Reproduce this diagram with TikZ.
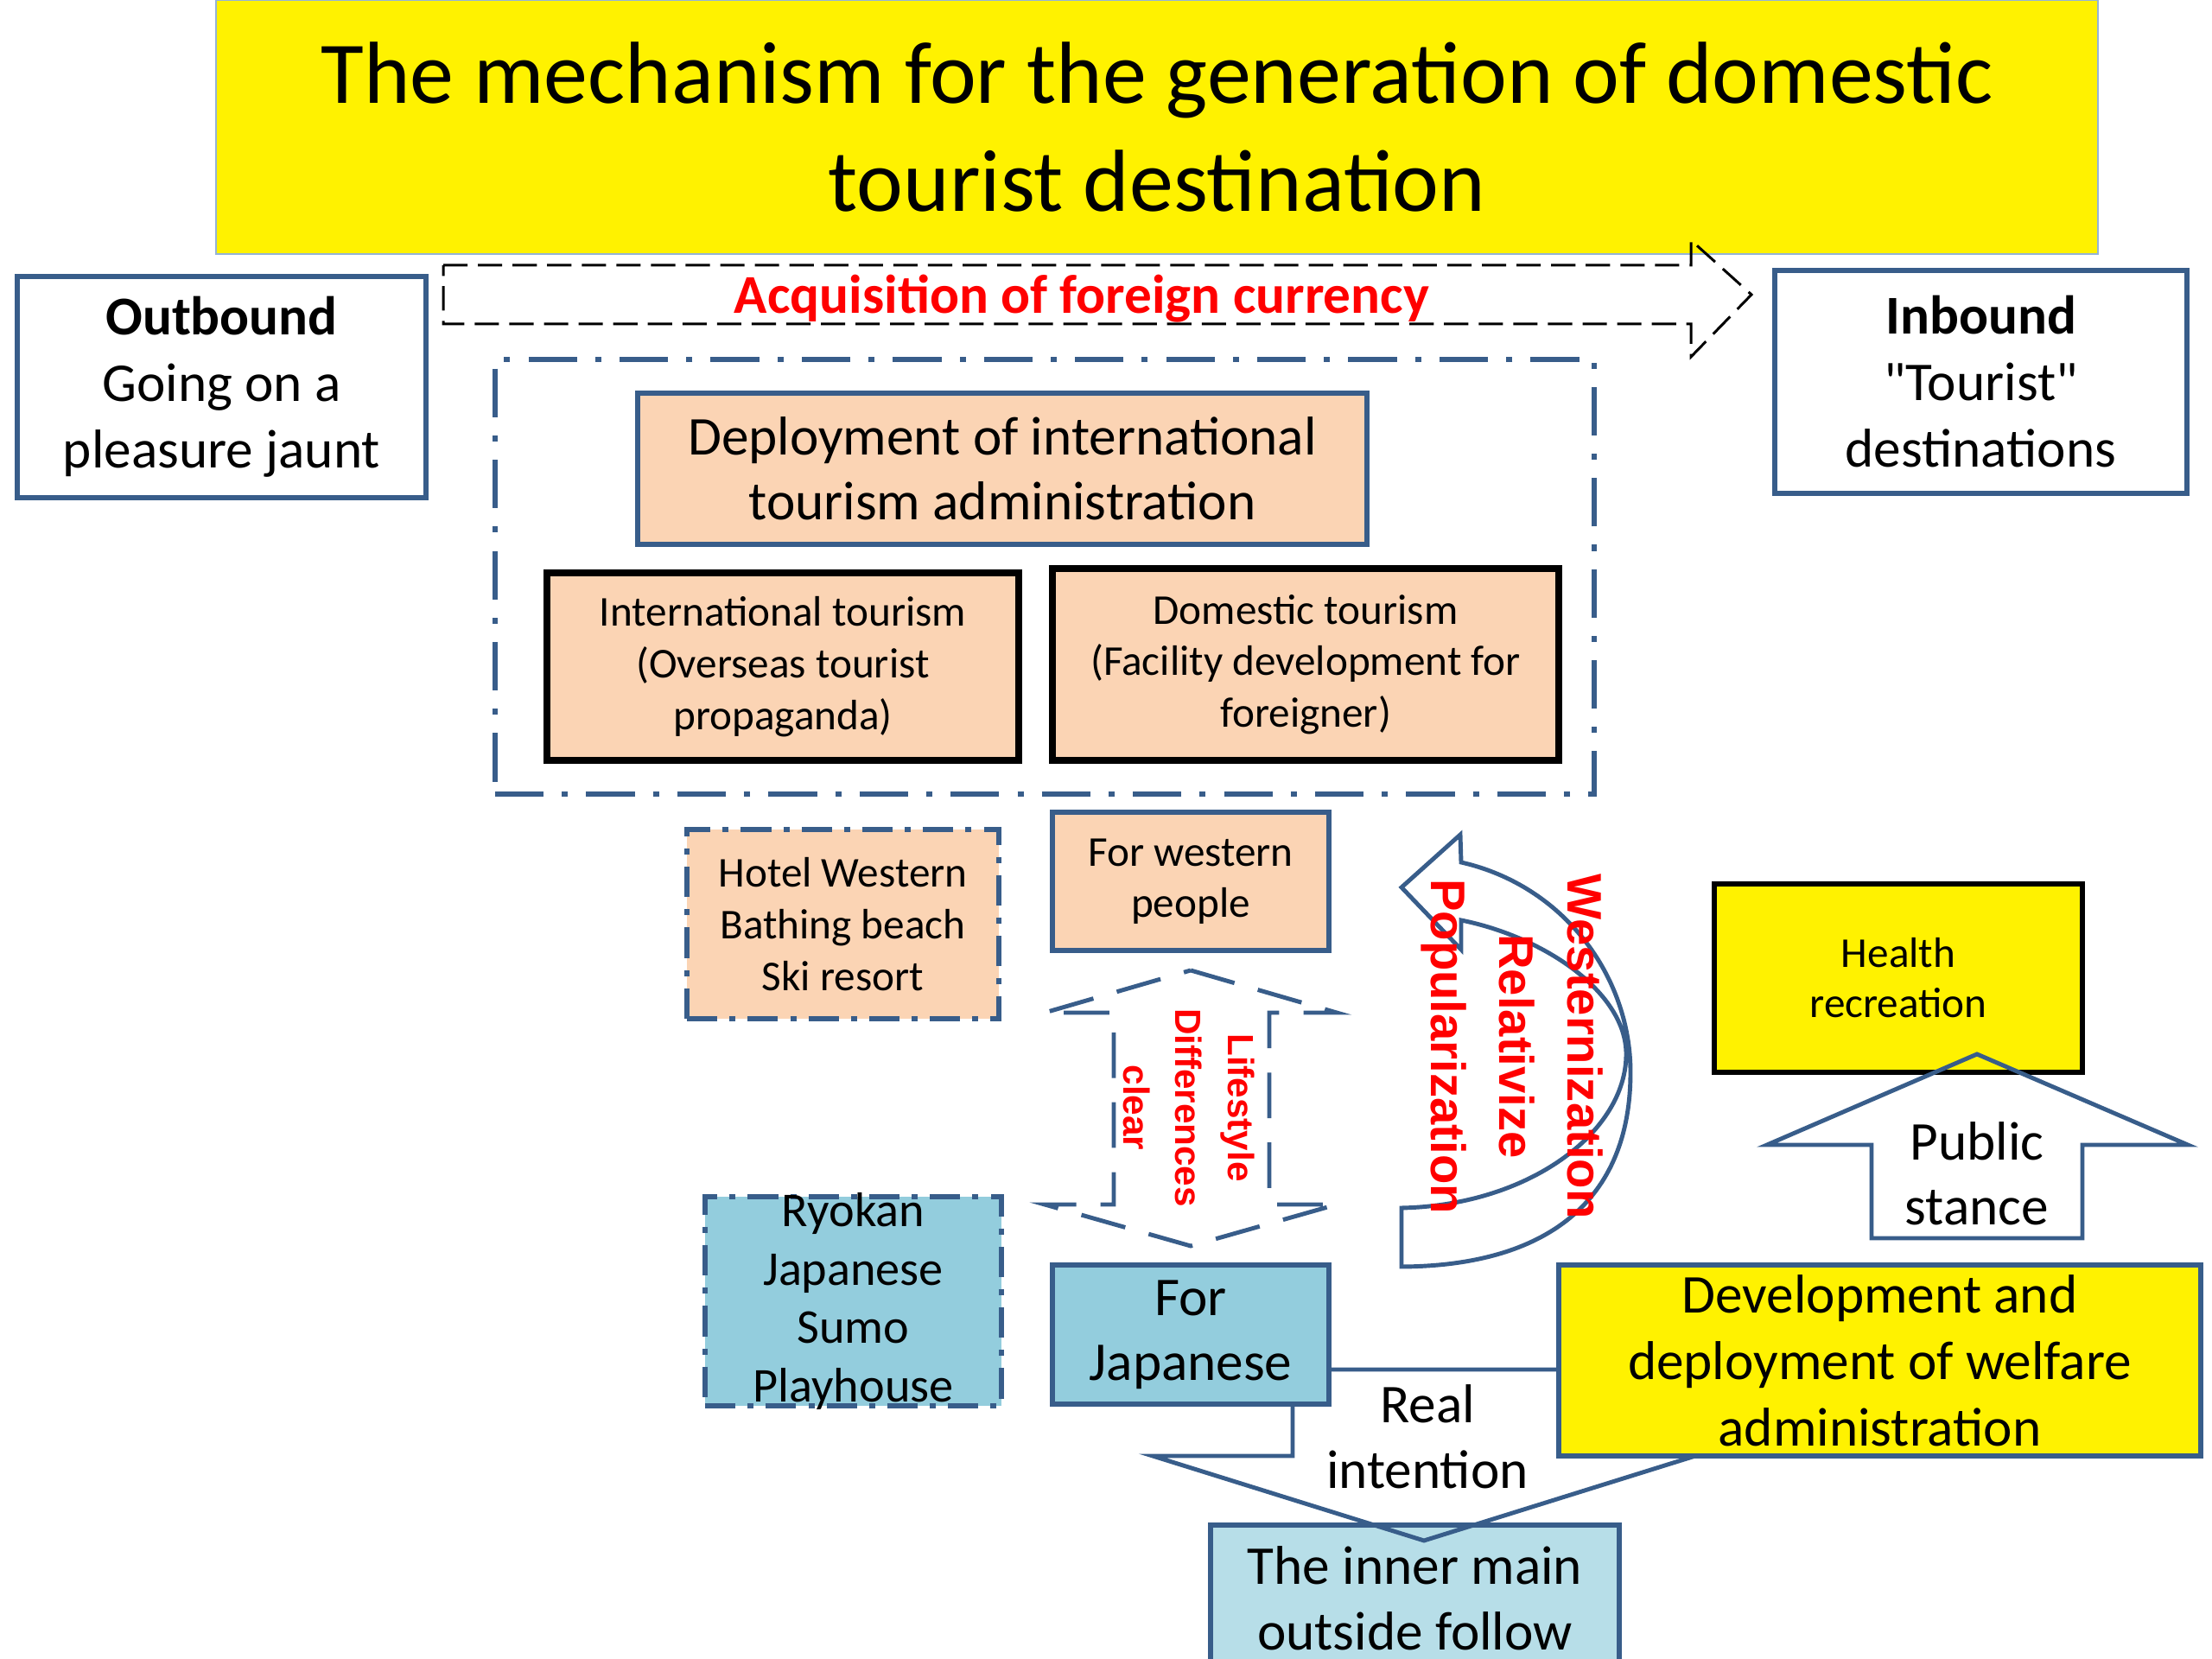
\documentclass[tikz,border=0pt]{standalone}
\usepackage{fontspec}
\setmainfont{Carlito}
\newfontfamily\arialfont{Liberation Sans}
\usetikzlibrary{positioning,calc}
\definecolor{boxblue}{HTML}{385D8A}
\definecolor{titleedge}{HTML}{95B3D7}
\definecolor{peach}{HTML}{FBD4B4}
\definecolor{seablue}{HTML}{93CDDD}
\definecolor{paleblue}{HTML}{B7DEE8}
\tikzset{
  headline/.style={draw=titleedge, line width=0.6pt, fill=yellow, align=center, inner sep=0pt, font=\fontsize{29}{35.8}\selectfont},
  sidebox/.style={draw=boxblue, line width=1.5pt, fill=white, align=center, inner sep=0pt, font=\fontsize{18}{21.9}\selectfont},
  adminbox/.style={draw=boxblue, line width=1.5pt, fill=peach, align=center, inner sep=0pt, font=\fontsize{18}{21.3}\selectfont},
  tourbox/.style={draw=black, line width=2.2pt, fill=peach, align=center, inner sep=0pt, font=\fontsize{14}{17}\selectfont},
  spotbox/.style={draw=boxblue, line width=1.5pt, dash pattern=on 10pt off 4pt on 2pt off 4pt, align=center, inner sep=0pt},
  userbox/.style={draw=boxblue, line width=1.5pt, align=center, inner sep=0pt, font=\fontsize{18}{21.3}\selectfont},
  outerframe/.style={draw=boxblue, line width=1.7pt, dash pattern=on 16pt off 6pt on 2pt off 6pt, inner sep=0pt},
  blockarrow/.style={draw=boxblue, line width=1.4pt, line join=miter},
  redtext/.style={text=red, rotate=-90, align=center, inner sep=0pt},
  arrowtext/.style={align=center, inner sep=0pt, font=\fontsize{18}{21.6}\selectfont}
}

\begin{document}
\begin{tikzpicture}[x=1cm,y=1cm]
  \useasboundingbox (0,0) rectangle (25.6,19.2);

  \node[headline, minimum width=21.78cm, minimum height=2.94cm] (title) at (13.39,17.73) {The mechanism for the generation of domestic\\tourist destination};
  \node[sidebox, minimum width=4.73cm, minimum height=2.56cm] (outbound) at (2.565,14.72) {\textbf{Outbound}\\Going on a\\pleasure jaunt};
  \node[sidebox, minimum width=4.77cm, minimum height=2.58cm] (inbound) at (22.925,14.78) {\textbf{Inbound}\\\textquotedbl Tourist\textquotedbl\\destinations};

  \coordinate (acqstart) at (5.13,15.79);
  \coordinate (acqtip) at (20.27,15.79);
  \draw[black, line width=0.85pt, dash pattern=on 8pt off 3.4pt]
    ($(acqstart)+(0,0.34)$) -- (19.57,16.13) -- (19.57,16.42) -- (acqtip)
    -- (19.57,15.07) -- (19.57,15.45) -- ($(acqstart)+(0,-0.34)$) -- cycle;
  \node[text=red, font=\fontsize{18}{21.6}\selectfont\bfseries, inner sep=0pt] (currency) at (12.52,15.74) {Acquisition of foreign currency};

  \node[outerframe, minimum width=12.72cm, minimum height=5.03cm] (admin) at (12.09,12.525) {};
  \node[adminbox, minimum width=8.44cm, minimum height=1.75cm] (deploy) at (11.60,13.775) {Deployment of international\\tourism administration};
  \node[tourbox, minimum width=5.46cm, minimum height=2.17cm] (intl) at (9.06,11.485) {International tourism\\(Overseas tourist\\propaganda)};
  \node[tourbox, minimum width=5.86cm, minimum height=2.22cm] (domestic) at (15.11,11.51) {Domestic tourism\\(Facility development for\\foreigner)};

  \node[spotbox, fill=peach, font=\fontsize{14}{17}\selectfont, minimum width=3.61cm, minimum height=2.19cm] (hotel) at (9.755,8.505) {Hotel Western\\Bathing beach\\Ski resort};
  \node[adminbox, font=\fontsize{14}{16.8}\selectfont, minimum width=3.20cm, minimum height=1.60cm] (western) at (13.78,9.00) {For western\\people};

  \draw[blockarrow, dash pattern=on 15pt off 8pt]
    (13.78,7.97) -- (15.47,7.48) -- (14.69,7.48) -- (14.69,5.26) -- (15.47,5.26)
    -- (13.78,4.78) -- (12.09,5.26) -- (12.89,5.26) -- (12.89,7.48) -- (12.09,7.48) -- cycle;
  \node[redtext, font=\arialfont\bfseries\fontsize{12}{17.3}\selectfont] (lifestyle) at (13.76,6.38) {Lifestyle\\Differences\\clear};

  \draw[blockarrow, fill=white]
    (16.22,8.93) -- (16.90,9.54) -- (16.91,9.22)
    .. controls (18.1,8.95) and (18.87,7.9) .. (18.87,6.79)
    .. controls (18.87,5.3) and (17.9,4.55) .. (16.22,4.54)
    -- (16.22,5.22)
    .. controls (17.7,5.25) and (18.82,6.1) .. (18.82,7.0)
    .. controls (18.82,7.7) and (17.9,8.35) .. (16.91,8.55)
    -- (16.91,8.21) -- cycle;
  \node[redtext, font=\arialfont\bfseries\fontsize{16}{22.4}\selectfont] (western2) at (17.50,7.09) {Westernization\\Relativize\\Popularization};

  \node[draw=black, line width=1.7pt, fill=yellow, align=center, inner sep=0pt, font=\fontsize{14}{16.5}\selectfont, minimum width=4.26cm, minimum height=2.18cm] (health) at (21.97,7.88) {Health\\recreation};
  \draw[blockarrow]
    (22.88,7.00) -- (25.32,5.95) -- (24.10,5.95) -- (24.10,4.87)
    -- (21.66,4.87) -- (21.66,5.95) -- (20.45,5.95) -- cycle;
  \node[arrowtext, font=\fontsize{18}{21.3}\selectfont] (public) at (22.88,5.62) {Public\\stance};

  \node[userbox, fill=paleblue, minimum width=4.73cm, minimum height=1.69cm, font=\fontsize{18}{21.6}\selectfont] (innermain) at (16.375,0.705) {The inner main\\outside follow};
  \draw[blockarrow]
    (14.96,3.35) -- (18.10,3.35) -- (18.10,2.35) -- (19.62,2.35)
    -- (16.48,1.37) -- (13.34,2.35) -- (14.96,2.35) -- cycle;

  \node[spotbox, fill=seablue, inner ysep=-2mm, font=\fontsize{16}{19.3}\selectfont, minimum width=3.43cm, minimum height=2.42cm] (ryokan) at (9.875,4.14) {Ryokan\\Japanese\\Sumo\\Playhouse};
  \node[userbox, fill=seablue, minimum width=3.20cm, minimum height=1.61cm] (japanese) at (13.78,3.755) {For\\Japanese};
  \node[userbox, fill=yellow, font=\fontsize{18}{21.9}\selectfont, minimum width=7.43cm, minimum height=2.21cm] (welfare) at (21.755,3.455) {Development and\\deployment of welfare\\administration};
  \node[arrowtext] (intention) at (16.52,2.57) {Real\\intention};
\end{tikzpicture}
\end{document}
